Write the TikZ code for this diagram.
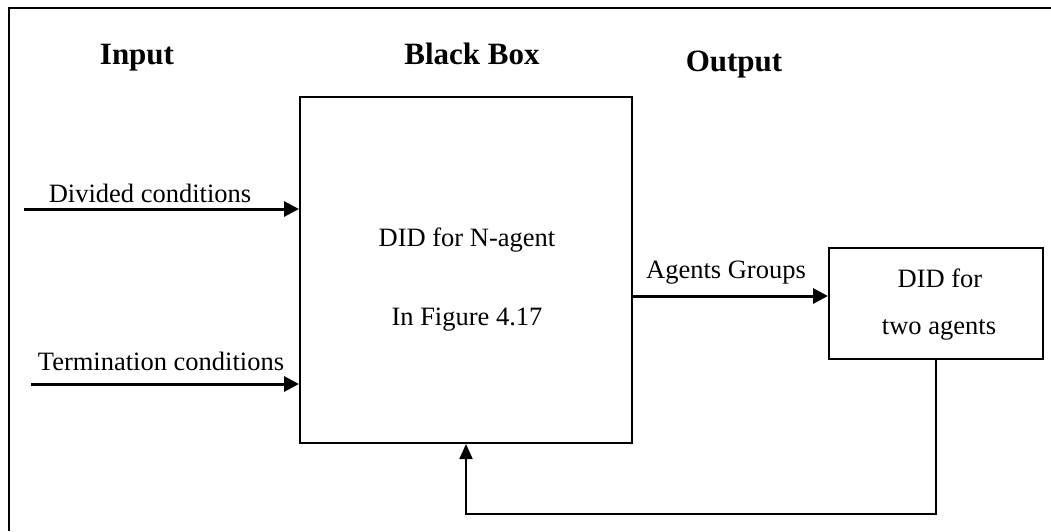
\documentclass[tikz,border=0pt]{standalone}
\usepackage{fontspec}
\setmainfont{Liberation Serif}
\usetikzlibrary{arrows.meta}
\begin{document}
\begin{tikzpicture}[x=1pt,y=-1pt,
  lbl/.style={anchor=base,inner sep=0pt,font=\fontsize{26.5}{30}\selectfont},
  head/.style={anchor=base,inner sep=0pt,font=\fontsize{31}{36}\selectfont\bfseries},
  boxst/.style={draw,line width=2pt,inner sep=0pt},
  thickarrow/.style={line width=3pt,-{Triangle[length=15pt,width=15pt]}},
  thinarrow/.style={line width=2pt,-{Triangle[length=15pt,width=13pt]}}]
\useasboundingbox (0,0) rectangle (1051,531);
% frame
\draw[line width=2pt] (9,531) -- (9,8) -- (1051,8);
% boxes
\node[boxst,minimum width=332pt,minimum height=346pt] (main) at (466,270) {};
\node[boxst,minimum width=214pt,minimum height=111pt] (two) at (936,303.5) {};
% headings
\node[head] (hin) at (137,64) {Input};
\node[head] (hbb) at (472,64) {Black Box};
\node[head] (hout) at (734,71) {Output};
% labels
\node[lbl] (ldiv) at (150,202) {Divided conditions};
\node[lbl] (lterm) at (161,370.5) {Termination conditions};
\node[lbl] (lm1) at (467,246) {DID for N-agent};
\node[lbl] (lm2) at (467,325.5) {In Figure 4.17};
\node[lbl] (lag) at (726,278.5) {Agents Groups};
\node[lbl] (lt1) at (940,287.5) {DID for};
\node[lbl] (lt2) at (939,334) {two agents};
% arrows
\coordinate (a1) at (24,209);
\coordinate (a2) at (31,384);
\coordinate (o1) at (632,296);
\coordinate (fb) at (466,514);
\draw[thickarrow] (a1) -- (a1 -| main.west);
\draw[thickarrow] (a2) -- (a2 -| main.west);
\draw[thickarrow] (o1 -| main.east) -- (o1 -| two.west);
\draw[thinarrow] (two.south) |- (fb) -- (main.south);
\end{tikzpicture}
\end{document}
